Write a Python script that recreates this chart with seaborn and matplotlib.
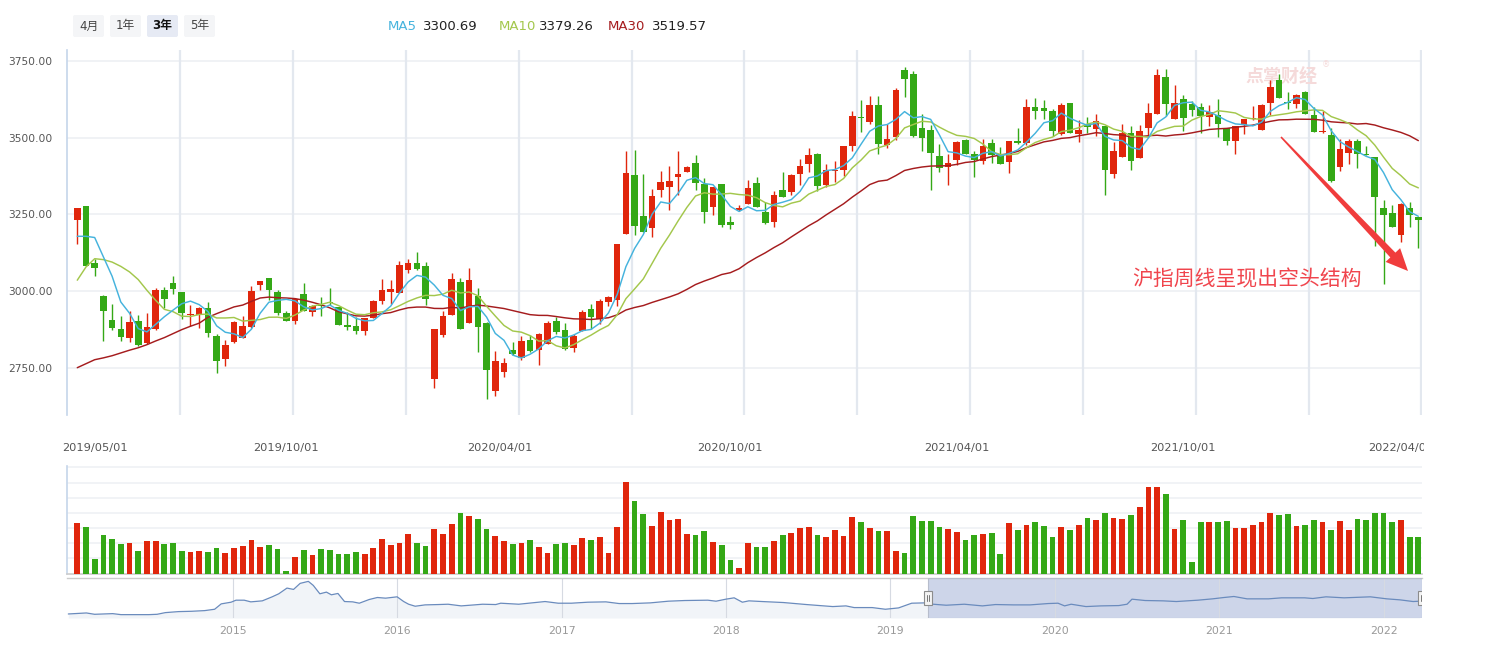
import numpy as np
import pandas as pd
import matplotlib
matplotlib.use("Agg")
import matplotlib.pyplot as plt
import seaborn as sns
from matplotlib.patches import FancyBboxPatch, Rectangle, Polygon
from matplotlib.transforms import Affine2D, Bbox, TransformedBbox, blended_transform_factory

sns.set_style("white")
plt.rcParams["font.family"] = ["DejaVu Sans", "Noto Sans CJK SC"]
plt.rcParams["axes.unicode_minus"] = False

# ---------------- data (weekly Shanghai Composite) ----------------
opens = [3233, 3277, 3091, 2984, 2905, 2876, 2848, 2902, 2832, 2877,
         3003, 3026, 2997, 2921, 2924, 2944, 2853, 2779, 2835, 2849,
         2884, 3020, 3042, 2997, 2928, 2903, 2992, 2934, 2956, 2965,
         2949, 2889, 2886, 2871, 2913, 2968, 2998, 2994, 3069, 3091,
         3081, 2714, 2858, 2923, 3029, 2897, 2986, 2896, 2675, 2737,
         2808, 2784, 2840, 2809, 2829, 2902, 2873, 2816, 2871, 2941,
         2908, 2965, 2973, 3188, 3378, 3244, 3206, 3330, 3340, 3372,
         3388, 3417, 3348, 3274, 3348, 3225, 3264, 3284, 3352, 3257,
         3226, 3329, 3322, 3381, 3415, 3446, 3346, 3391, 3395, 3473,
         3569, 3551, 3606, 3476, 3502, 3720, 3707, 3531, 3524, 3440,
         3405, 3428, 3492, 3446, 3424, 3482, 3446, 3421, 3488, 3482,
         3599, 3596, 3586, 3512, 3612, 3512, 3544, 3529, 3537, 3382,
         3437, 3514, 3434, 3532, 3577, 3697, 3561, 3625, 3609, 3599,
         3568, 3573, 3532, 3489, 3543, 3560, 3525, 3613, 3687, 3618,
         3611, 3648, 3573, 3519, 3508, 3405, 3450, 3488, 3447, 3436,
         3270, 3254, 3183, 3270, 3241]
highs = [3272, 3279, 3105, 2987, 2957, 2918, 2936, 2922, 2929, 3010,
         3013, 3049, 2997, 2954, 2949, 2964, 2862, 2840, 2902, 2918,
         3016, 3032, 3042, 3003, 2935, 2979, 3026, 2956, 2980, 3010,
         2949, 2933, 2916, 2914, 2972, 3039, 3036, 3099, 3106, 3127,
         3094, 2876, 2935, 3058, 3042, 3075, 3010, 2899, 2804, 2781,
         2834, 2853, 2857, 2865, 2902, 2915, 2898, 2862, 2940, 2957,
         2974, 2985, 3153, 3456, 3459, 3381, 3332, 3391, 3407, 3456,
         3407, 3443, 3368, 3339, 3348, 3244, 3280, 3361, 3371, 3290,
         3326, 3387, 3381, 3430, 3466, 3449, 3413, 3423, 3474, 3586,
         3622, 3635, 3635, 3544, 3661, 3729, 3716, 3576, 3540, 3479,
         3446, 3488, 3495, 3456, 3495, 3495, 3469, 3488, 3531, 3625,
         3628, 3622, 3593, 3612, 3612, 3557, 3567, 3576, 3537, 3485,
         3544, 3537, 3540, 3612, 3723, 3723, 3671, 3638, 3619, 3612,
         3606, 3625, 3532, 3537, 3560, 3602, 3609, 3687, 3707, 3648,
         3641, 3651, 3600, 3586, 3531, 3495, 3495, 3495, 3473, 3436,
         3296, 3280, 3286, 3290, 3241]
lows = [3155, 3082, 3050, 2838, 2875, 2838, 2835, 2821, 2827, 2874,
        2947, 2992, 2908, 2886, 2880, 2851, 2734, 2756, 2832, 2848,
        2881, 3004, 2972, 2921, 2903, 2893, 2936, 2918, 2918, 2954,
        2890, 2875, 2860, 2857, 2913, 2960, 2960, 2994, 3060, 3068,
        2954, 2685, 2851, 2923, 2877, 2897, 2802, 2649, 2659, 2721,
        2791, 2775, 2802, 2761, 2827, 2862, 2809, 2802, 2871, 2878,
        2892, 2952, 2952, 3188, 3183, 3193, 3177, 3308, 3265, 3314,
        3388, 3330, 3222, 3248, 3209, 3203, 3261, 3284, 3274, 3219,
        3209, 3307, 3312, 3345, 3388, 3327, 3340, 3356, 3374, 3457,
        3519, 3544, 3447, 3468, 3493, 3633, 3501, 3457, 3330, 3388,
        3346, 3412, 3447, 3372, 3415, 3418, 3415, 3385, 3481, 3475,
        3560, 3561, 3506, 3509, 3516, 3486, 3516, 3505, 3314, 3369,
        3437, 3395, 3434, 3502, 3577, 3570, 3561, 3521, 3570, 3516,
        3538, 3502, 3476, 3447, 3512, 3557, 3525, 3574, 3630, 3593,
        3596, 3577, 3519, 3516, 3355, 3392, 3415, 3402, 3443, 3147,
        3024, 3209, 3161, 3209, 3141]
closes = [3270, 3082, 3076, 2936, 2880, 2851, 2899, 2825, 2883, 3003,
          2975, 3007, 2929, 2925, 2946, 2864, 2773, 2824, 2899, 2886,
          3000, 3032, 3004, 2929, 2903, 2975, 2936, 2952, 2952, 2961,
          2890, 2884, 2871, 2912, 2967, 3003, 3006, 3085, 3091, 3073,
          2975, 2876, 2918, 3039, 2877, 3036, 2884, 2744, 2772, 2765,
          2795, 2837, 2805, 2860, 2896, 2866, 2812, 2853, 2931, 2916,
          2967, 2980, 3153, 3384, 3213, 3193, 3309, 3355, 3358, 3381,
          3404, 3353, 3258, 3339, 3216, 3216, 3270, 3335, 3274, 3222,
          3312, 3307, 3378, 3407, 3443, 3343, 3394, 3394, 3472, 3570,
          3564, 3606, 3480, 3495, 3654, 3691, 3505, 3499, 3450, 3402,
          3417, 3485, 3447, 3426, 3472, 3443, 3415, 3488, 3483, 3599,
          3587, 3587, 3522, 3606, 3516, 3524, 3535, 3554, 3395, 3456,
          3514, 3424, 3521, 3580, 3703, 3611, 3612, 3564, 3590, 3571,
          3583, 3545, 3489, 3537, 3560, 3562, 3606, 3664, 3630, 3614,
          3638, 3577, 3519, 3521, 3358, 3462, 3488, 3447, 3443, 3307,
          3248, 3209, 3283, 3248, 3233]
volumes = [333, 306, 95, 253, 227, 194, 200, 148, 214, 214,
           194, 200, 148, 141, 148, 141, 167, 134, 167, 181,
           220, 174, 187, 161, 15, 108, 154, 121, 161, 154,
           128, 128, 141, 128, 167, 227, 187, 200, 260, 200,
           181, 293, 260, 326, 399, 379, 359, 293, 247, 214,
           194, 200, 220, 174, 134, 194, 200, 187, 233, 220,
           240, 134, 306, 604, 478, 392, 313, 405, 352, 359,
           260, 253, 280, 207, 187, 88, 35, 200, 174, 174,
           214, 253, 267, 300, 306, 253, 240, 286, 247, 372,
           339, 300, 280, 280, 148, 134, 379, 346, 346, 306,
           293, 273, 220, 253, 260, 267, 128, 333, 286, 319,
           339, 313, 240, 306, 286, 319, 366, 352, 399, 366,
           359, 385, 438, 570, 570, 524, 293, 352, 75, 339,
           339, 339, 346, 300, 300, 319, 339, 399, 385, 392,
           313, 319, 352, 339, 286, 346, 286, 359, 352, 399,
           399, 339, 352, 240, 240]

# moving-average values at the start of the window (need weeks before the visible range)
ma5_head = [3179, 3179, 3175, 3112]
ma10_head = [3036, 3079, 3106, 3103, 3095, 3081, 3063, 3038, 3003]
ma30_head = [2751, 2764, 2777, 2783, 2790, 2799, 2808, 2816, 2826, 2838,
             2849, 2862, 2875, 2886, 2896, 2915, 2927, 2938, 2949, 2955,
             2967, 2978, 2981, 2979, 2978, 2976, 2971, 2964, 2956]

date_labels = ["2019/05/01", "2019/10/01", "2020/04/01", "2020/10/01",
               "2021/04/01", "2021/10/01", "2022/04/01"]
date_label_idx = [2, 24, 48.5, 75, 101, 127, 152]

price_ticks = [2750, 3000, 3250, 3500, 3750]
vol_grid = [100, 200, 300, 400, 500, 600, 700]

legend_names = ["MA5", "MA10", "MA30"]
legend_values = ["3300.69", "3379.26", "3519.57"]
range_buttons = ["4月", "1年", "3年", "5年"]
selected_button = "3年"
annotation_text = "沪指周线呈现出空头结构"
watermark_text = "点掌财经"

# navigator overview (decimal year, index level)
nav_years = [2014.00, 2014.11, 2014.16, 2014.27, 2014.32, 2014.49, 2014.54, 2014.59, 2014.67, 2014.75,
             2014.83, 2014.89, 2014.93, 2014.99,
             2015.02, 2015.07, 2015.11, 2015.18, 2015.24, 2015.28, 2015.33, 2015.37, 2015.41, 2015.46,
             2015.49, 2015.53, 2015.57, 2015.60, 2015.64, 2015.68, 2015.73, 2015.77, 2015.83, 2015.88, 2015.93,
             2016.00, 2016.04, 2016.07, 2016.11, 2016.17, 2016.25, 2016.31, 2016.39, 2016.47, 2016.52,
             2016.60, 2016.63, 2016.74, 2016.84, 2016.90, 2016.98,
             2017.06, 2017.16, 2017.27, 2017.35, 2017.43, 2017.54, 2017.65, 2017.75, 2017.89, 2017.94,
             2018.00, 2018.05, 2018.10, 2018.14, 2018.22, 2018.35, 2018.49, 2018.57, 2018.65, 2018.73,
             2018.78, 2018.89, 2018.97,
             2019.05, 2019.13, 2019.21, 2019.26, 2019.34, 2019.45, 2019.56, 2019.64, 2019.75, 2019.85, 2019.96,
             2020.02, 2020.06, 2020.10, 2020.19, 2020.28, 2020.39, 2020.44, 2020.47, 2020.55, 2020.66,
             2020.74, 2020.87, 2020.96,
             2021.03, 2021.09, 2021.17, 2021.30, 2021.38, 2021.52, 2021.57, 2021.65, 2021.76, 2021.92,
             2022.02, 2022.10, 2022.18, 2022.22]
nav_values = [2000, 2098, 1968, 2033, 1935, 1935, 1968, 2131, 2230, 2262,
              2328, 2459, 2983, 3147,
              3343, 3343, 3180, 3278, 3671, 3966, 4523, 4392, 4981, 5178,
              4785, 3966, 4130, 3868, 3999, 3212, 3180, 3049, 3409, 3606, 3540,
              3671, 3212, 2950, 2754, 2885, 2918, 2950, 2787, 2885, 2950,
              2918, 3049, 2950, 3114, 3212, 3049,
              3049, 3147, 3180, 3016, 3016, 3081, 3245, 3311, 3343, 3245,
              3442, 3573, 3147, 3278, 3212, 3114, 2918, 2819, 2721, 2787,
              2623, 2623, 2459,
              2590, 3049, 3081, 2950, 2852, 2950, 2787, 2918, 2885, 2885, 3016,
              3049, 2787, 2950, 2721, 2787, 2819, 2950, 3442, 3311, 3278,
              3212, 3343, 3474,
              3606, 3704, 3474, 3474, 3573, 3573, 3507, 3671, 3573, 3671,
              3474, 3376, 3212, 3245]
nav_year_ticks = [2015, 2016, 2017, 2018, 2019, 2020, 2021, 2022]
nav_selection_start = 2019.229

# ---------------- style ----------------
RED = "#e0260c"
GREEN = "#34a816"
MA_COLORS = ["#45b3dd", "#a3c74c", "#a51c1e"]
GRID_H = "#eff1f5"
GRID_V = "#e3e8ef"
AXIS_BLUE = "#c5d5ea"

W, H = 1500, 646
fig = plt.figure(figsize=(W / 100, H / 100), dpi=100)
fig.patch.set_facecolor("white")
PIX = Affine2D().scale(1.0 / W, -1.0 / H).translate(0, 1) + fig.transFigure


def rect(x0, y0, x1, y1):
    return [x0 / W, 1 - y1 / H, (x1 - x0) / W, (y1 - y0) / H]


ax = fig.add_axes(rect(67, 50, 1422, 415))
axv = fig.add_axes(rect(67, 466, 1422, 573.5))
axn = fig.add_axes(rect(67, 578, 1422, 618))

o = np.array(opens, float)
h = np.array(highs, float)
l = np.array(lows, float)
c = np.array(closes, float)
n = len(c)
idx = np.arange(n)
up = c >= o
cols = np.where(up, RED, GREEN)

XL = (-1.18, 154.42)

# ---------------- main candlestick panel ----------------
for v in price_ticks:
    ax.axhline(v, color=GRID_H, lw=1.3, zorder=0)
xv = np.linspace(XL[0], XL[1], 13)[1:]
xv[-1] -= 0.06
for x in xv:
    ax.axvline(x, color=GRID_V, lw=1.6, zorder=0.5)

ax.vlines(idx, l, h, colors=cols, lw=1.0, zorder=3)
ax.bar(idx, np.maximum(np.abs(c - o), 4.0), bottom=np.minimum(o, c), width=0.76,
       color=cols, linewidth=0, zorder=4)


def moving_average(window, head):
    s = pd.Series(c).rolling(window).mean().to_numpy()
    s[:len(head)] = head
    return s


ma_lines = [moving_average(5, ma5_head), moving_average(10, ma10_head), moving_average(30, ma30_head)]
for vals, colr in zip(ma_lines[::-1], MA_COLORS[::-1]):
    sns.lineplot(x=idx, y=vals, ax=ax, color=colr, lw=1.05, zorder=5, estimator=None)

ax.set_xlim(*XL)
ax.set_ylim(2596.9, 3785.8)
ax.set_yticks(price_ticks)
ax.set_yticklabels([f"{v:.2f}" for v in price_ticks])
ax.tick_params(axis="y", length=0, pad=10.5, labelsize=7.7, labelcolor="#555555")
ax.set_xticks(date_label_idx)
ax.set_xticklabels(date_labels)
ax.tick_params(axis="x", length=0, pad=20, labelsize=8.2, labelcolor="#555555")
ax.set_xlabel("")
ax.set_ylabel("")
for s in ["top", "right", "bottom"]:
    ax.spines[s].set_visible(False)
ax.spines["left"].set_color(AXIS_BLUE)
ax.spines["left"].set_linewidth(1.2)

clipbox = TransformedBbox(Bbox.from_extents(0, 0, 1424 / W, 1), fig.transFigure)
for t in ax.get_xticklabels():
    t.set_clip_on(True)
    t.set_clip_box(clipbox)

# watermark
ax.text((1245 - 67) / 1355, (415 - 77) / 365, watermark_text, transform=ax.transAxes,
        fontsize=13, fontweight="bold", color="#f5dada", family=["Noto Sans CJK SC"],
        ha="left", va="center", zorder=1)
ax.text((1322 - 67) / 1355, (415 - 65) / 365, "®", transform=ax.transAxes,
        fontsize=6, color="#f5dada", ha="left", va="center", zorder=1)

# ---------------- volume panel ----------------
for v in vol_grid:
    axv.axhline(v, color=GRID_H, lw=1.2, zorder=0)
vol_df = pd.DataFrame({"i": idx, "vol": volumes, "dir": np.where(up, "up", "down")})
sns.barplot(data=vol_df, x="i", y="vol", hue="dir", palette={"up": RED, "down": GREEN},
            native_scale=True, dodge=False, width=0.66, saturation=1, legend=False,
            errorbar=None, ax=axv, zorder=3, linewidth=0)
axv.set_xlim(*XL)
axv.set_ylim(0, 709)
axv.set_xticks([])
axv.set_yticks([])
axv.set_xlabel("")
axv.set_ylabel("")
for s in ["top", "right"]:
    axv.spines[s].set_visible(False)
axv.spines["left"].set_color(AXIS_BLUE)
axv.spines["left"].set_linewidth(1.2)
axv.spines["bottom"].set_color("#cccccc")
axv.spines["bottom"].set_linewidth(1.2)

# ---------------- navigator ----------------
NX = (2013.992, 2022.234)
NY = (1607, 5506)
axn.fill_between(nav_years, nav_values, NY[0], color="#f1f4f8", lw=0, zorder=1)
axn.axvspan(nav_selection_start, NX[1], color="#cdd5e9", lw=0, zorder=2)
for yr in nav_year_ticks:
    axn.axvline(yr, color="#d6dae2", lw=0.8, zorder=2.5)
sns.lineplot(x=nav_years, y=nav_values, ax=axn, color="#6a8bbd", lw=0.9, zorder=4, estimator=None)
axn.add_patch(Rectangle((nav_selection_start, 0), NX[1] - nav_selection_start, 1,
                        transform=blended_transform_factory(axn.transData, axn.transAxes),
                        facecolor="none", edgecolor="#b7bdcc", lw=0.8, zorder=5))
bt = blended_transform_factory(axn.transData, axn.transAxes)
px_per_year = 1355 / (NX[1] - NX[0])
for hx in (nav_selection_start, NX[1]):
    hw = 8.5 / px_per_year
    axn.add_patch(Rectangle((hx - hw / 2, 0.32), hw, 0.36, transform=bt, facecolor="#f3f3f3",
                            edgecolor="#8c8c8c", lw=0.8, zorder=6))
    for dx in (-1.3, 1.3):
        axn.plot([hx + dx / px_per_year] * 2, [0.42, 0.58], transform=bt, color="#777777",
                 lw=0.7, zorder=7)
axn.set_xlim(*NX)
axn.set_ylim(*NY)
axn.set_xticks(nav_year_ticks)
axn.set_xticklabels([str(y) for y in nav_year_ticks])
axn.tick_params(axis="x", length=0, pad=6, labelsize=7.8, labelcolor="#999999")
axn.set_yticks([])
axn.set_xlabel("")
axn.set_ylabel("")
for s in ["left", "right", "bottom"]:
    axn.spines[s].set_visible(False)
axn.spines["top"].set_color("#cccccc")
axn.spines["top"].set_linewidth(1.0)

# ---------------- header: range buttons and MA legend ----------------
btn_x = [73, 110, 147, 184]
for lab, x0 in zip(range_buttons, btn_x):
    sel = lab == selected_button
    fig.add_artist(FancyBboxPatch((x0, 15), 31, 22, boxstyle="round,pad=0,rounding_size=2",
                                  transform=PIX, facecolor="#e6eaf4" if sel else "#f4f5f7",
                                  edgecolor="none"))
    fig.text(x0 + 15.5, 26, lab, transform=PIX, ha="center", va="center", fontsize=8.5,
             color="#111111" if sel else "#444444", fontweight="bold" if sel else "normal")

name_x = [388, 498.5, 608]
val_x = [423, 539, 652]
for name, val, colr, xn, xvv in zip(legend_names, legend_values, MA_COLORS, name_x, val_x):
    fig.text(xn, 26, name, transform=PIX, ha="left", va="center", fontsize=9.5, color=colr)
    fig.text(xvv, 26, val, transform=PIX, ha="left", va="center", fontsize=9.5, color="#222222")

# ---------------- annotation ----------------
fig.text(1132, 279, annotation_text, transform=PIX, ha="left", va="center", fontsize=15,
         color="#f0454d", family=["Noto Sans CJK SC"], zorder=10)
tail = np.array([1281.0, 137.0])
tip = np.array([1408.0, 271.0])
d = tip - tail
u = d / np.hypot(*d)
nrm = np.array([-u[1], u[0]])
base = tip - 22 * u
pts = [tail + 0.8 * nrm, base + 3.5 * nrm, base + 10 * nrm, tip,
       base - 10 * nrm, base - 3.5 * nrm, tail - 0.8 * nrm]
fig.add_artist(Polygon(pts, closed=True, transform=PIX, facecolor="#f03c3c",
                       edgecolor="none", zorder=10))

fig.savefig("out.png", dpi=100, facecolor="white")
